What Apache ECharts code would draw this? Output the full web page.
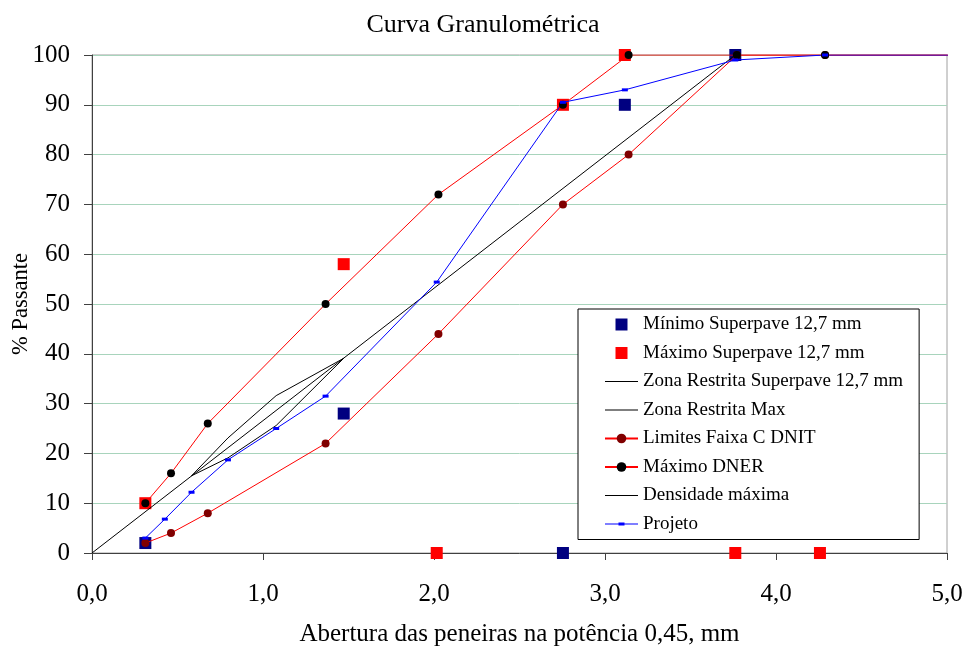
<!DOCTYPE html>
<html>
<head>
<meta charset="utf-8">
<script src="https://cdn.jsdelivr.net/npm/echarts@6/dist/echarts.min.js"></script>
<style>
  html, body { margin: 0; padding: 0; background: #fff; }
  #main { width: 966px; height: 646px; }
</style>
</head>
<body>
<div id="main"></div>
<script>
// abertura das peneiras elevada a 0,45
var minSupX = [0.312, 1.472, 2.754, 3.116, 3.762];
var minSupY = [2, 28, 0, 90, 100];
var maxSupX = [0.312, 1.472, 2.016, 2.754, 3.116, 3.762, 4.257];
var maxSupY = [10, 58, 0, 90, 100, 0, 0];

var zonaX = [0.582, 0.795, 1.077, 1.472];
var zonaMin = [15.5, 19.1, 25.6, 39.1];
var zonaMax = [15.5, 23.1, 31.6, 39.1];

var dnitX = [0.312, 0.462, 0.677, 1.366, 2.026, 2.754, 3.138, 3.771, 4.287, 5.145];
var dnitMin = [2, 4, 8, 22, 44, 70, 80, 100, 100, 100];
var dnitMax = [10, 16, 26, 50, 72, 90, 100, 100, 100, 100];

var densX = [0, 3.762];
var densY = [0, 100];

var projX = [0.312, 0.426, 0.582, 0.795, 1.077, 1.366, 2.016, 2.754, 3.116, 3.762, 4.287, 5.145];
var projY = [3, 6.8, 12.2, 18.7, 25, 31.5, 54.4, 90.5, 93, 99, 100, 100];

function pares(xs, ys) {
  var out = [];
  for (var i = 0; i < xs.length; i++) out.push([xs[i], ys[i]]);
  return out;
}

var fonte = "'Liberation Serif', 'DejaVu Serif', serif";
// icones da legenda
var iconeQuadrado = 'path://M0,0 h12 v12 h-12 Z';
var iconeLinha = 'path://M0,0 h33 v1 h-33 Z';
var iconeProjeto = 'path://M0,1 h33 v1 h-33 Z M13.5,0 h6 v3 h-6 Z';

var myChart = echarts.init(document.getElementById('main'));
var option = {
  backgroundColor: '#fff',
  animation: false,
  title: {
    text: 'Curva Granulométrica',
    left: 'center',
    top: 7,
    textStyle: { fontFamily: fonte, fontSize: 26, fontWeight: 'normal', color: '#000' }
  },
  grid: {
    left: 92, top: 55, width: 855, height: 498,
    containLabel: false,
    outerBoundsMode: 'none',
    show: true, borderColor: '#a0a0a0', borderWidth: 1
  },
  legend: {
    orient: 'vertical',
    left: 578,
    top: 309,
    padding: [6, 16, 6, 26],
    itemWidth: 33,
    itemHeight: 12,
    itemGap: 9.5,
    backgroundColor: '#fff',
    borderColor: '#000',
    borderWidth: 1,
    textStyle: { fontFamily: fonte, fontSize: 19, color: '#000' },
    data: [
      { name: 'Mínimo Superpave 12,7 mm', icon: iconeQuadrado },
      { name: 'Máximo Superpave 12,7 mm', icon: iconeQuadrado },
      { name: 'Zona Restrita Superpave 12,7 mm', icon: iconeLinha },
      { name: 'Zona Restrita Max', icon: iconeLinha },
      'Limites Faixa C DNIT',
      'Máximo DNER',
      { name: 'Densidade máxima', icon: iconeLinha },
      { name: 'Projeto', icon: iconeProjeto }
    ]
  },
  xAxis: {
    type: 'value',
    min: 0, max: 5, interval: 1,
    name: 'Abertura das peneiras na potência 0,45, mm',
    nameLocation: 'middle',
    nameGap: 69,
    nameMoveOverlap: false,
    nameTextStyle: { fontFamily: fonte, fontSize: 25, color: '#000' },
    axisLine: { show: true, lineStyle: { color: '#404040', width: 1 } },
    axisTick: { show: true, length: 7, lineStyle: { color: '#404040' } },
    axisLabel: {
      margin: 29,
      fontFamily: fonte, fontSize: 25, color: '#000',
      formatter: function (v) { return v.toFixed(1).replace('.', ','); }
    },
    splitLine: { show: false }
  },
  yAxis: {
    type: 'value',
    min: 0, max: 100, interval: 10,
    name: '% Passante',
    nameLocation: 'middle',
    nameGap: 59,
    nameMoveOverlap: false,
    nameTextStyle: { fontFamily: fonte, fontSize: 22.5, color: '#000' },
    axisLine: { show: true, lineStyle: { color: '#404040', width: 1 } },
    axisTick: { show: true, length: 8, lineStyle: { color: '#404040' } },
    axisLabel: { margin: 22, fontFamily: fonte, fontSize: 25, color: '#000' },
    splitLine: { show: true, lineStyle: { color: '#a8d4bc', width: 1 } }
  },
  series: [
    {
      name: 'Mínimo Superpave 12,7 mm',
      type: 'scatter',
      symbol: 'rect',
      symbolSize: 12,
      itemStyle: { color: '#000080', opacity: 1 },
      data: pares(minSupX, minSupY)
    },
    {
      name: 'Máximo Superpave 12,7 mm',
      type: 'scatter',
      symbol: 'rect',
      symbolSize: 12,
      itemStyle: { color: '#ff0000', opacity: 1 },
      data: pares(maxSupX, maxSupY)
    },
    {
      name: 'Zona Restrita Superpave 12,7 mm',
      type: 'line',
      symbol: 'none',
      lineStyle: { color: '#000', width: 1 },
      itemStyle: { color: '#000' },
      data: pares(zonaX, zonaMin)
    },
    {
      name: 'Zona Restrita Max',
      type: 'line',
      symbol: 'none',
      lineStyle: { color: '#000', width: 1 },
      itemStyle: { color: '#000' },
      data: pares(zonaX, zonaMax)
    },
    {
      name: 'Limites Faixa C DNIT',
      type: 'line',
      symbol: 'circle',
      symbolSize: 8,
      lineStyle: { color: '#ff0000', width: 1 },
      itemStyle: { color: '#800000', borderWidth: 0 },
      data: pares(dnitX, dnitMin)
    },
    {
      name: 'Máximo DNER',
      type: 'line',
      symbol: 'circle',
      symbolSize: 8,
      lineStyle: { color: '#ff0000', width: 1 },
      itemStyle: { color: '#000', borderWidth: 0 },
      data: pares(dnitX, dnitMax)
    },
    {
      name: 'Densidade máxima',
      type: 'line',
      symbol: 'none',
      lineStyle: { color: '#000', width: 1 },
      itemStyle: { color: '#000' },
      data: pares(densX, densY)
    },
    {
      name: 'Projeto',
      type: 'line',
      symbol: 'rect',
      symbolSize: [6, 3],
      lineStyle: { color: '#0000ff', width: 1 },
      itemStyle: { color: '#0000ff', borderWidth: 0 },
      data: pares(projX, projY)
    }
  ]
};

myChart.setOption(option);
window.addEventListener('resize', function () {
  myChart.resize();
});
</script>
</body>
</html>
